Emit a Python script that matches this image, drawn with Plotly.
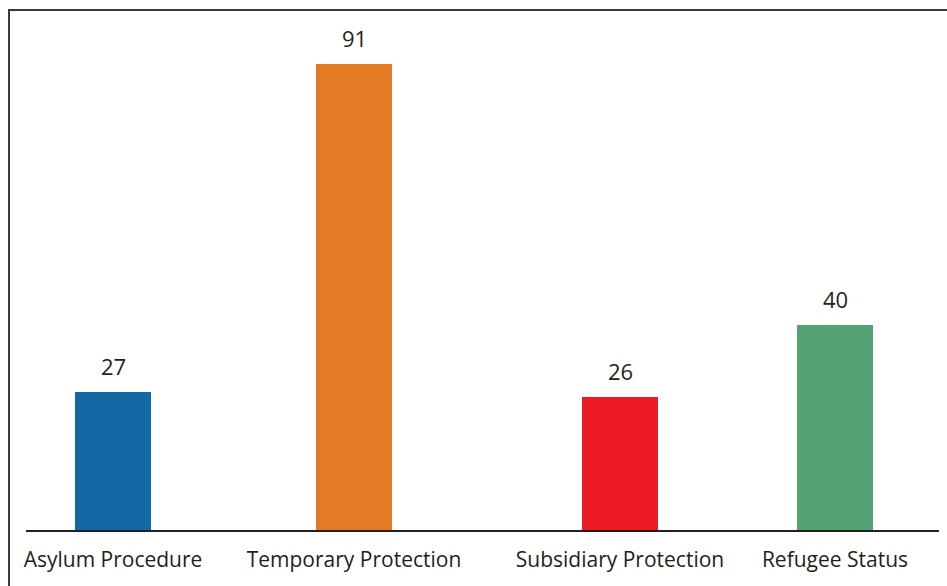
import plotly.graph_objects as go

categories = ["Asylum Procedure", "Temporary Protection", "Subsidiary Protection", "Refugee Status"]
values = [27, 91, 26, 40]
colors = ["#1469a4", "#e37b24", "#ed1c24", "#54a274"]

# horizontal layout slots (uneven spacing as in the original)
slots = [87, 328, 594, 809]
bar_width = 76

text_color = "#231f20"
font_family = "Open Sans, sans-serif"

fig = go.Figure()
fig.add_trace(go.Bar(
    x=slots, y=values, width=bar_width,
    marker=dict(color=colors, line=dict(width=0)),
    showlegend=False, hoverinfo="skip",
))

for xs, v in zip(slots, values):
    fig.add_annotation(x=xs, y=v, text=str(v), showarrow=False,
                       yanchor="bottom", yshift=9,
                       font=dict(size=22, color=text_color, family=font_family))

fig.add_shape(type="rect", xref="paper", yref="paper",
              x0=-0.0186, x1=1.1, y0=-0.3, y1=1.0,
              line=dict(color="#3a3a3a", width=2), layer="above")

fig.update_layout(
    width=947, height=586,
    margin=dict(l=26, r=8, t=10, b=56),
    paper_bgcolor="white", plot_bgcolor="white",
    bargap=0,
    xaxis=dict(range=[0, 913], tickmode="array", tickvals=slots, ticktext=categories,
               showline=True, linecolor=text_color, linewidth=2,
               showgrid=False, zeroline=False, ticks="", fixedrange=True,
               ticklabelstandoff=10,
               tickfont=dict(size=21, color=text_color, family=font_family)),
    yaxis=dict(range=[0, 101.6], visible=False, showgrid=False, zeroline=False),
)

fig.write_html("out.html")
